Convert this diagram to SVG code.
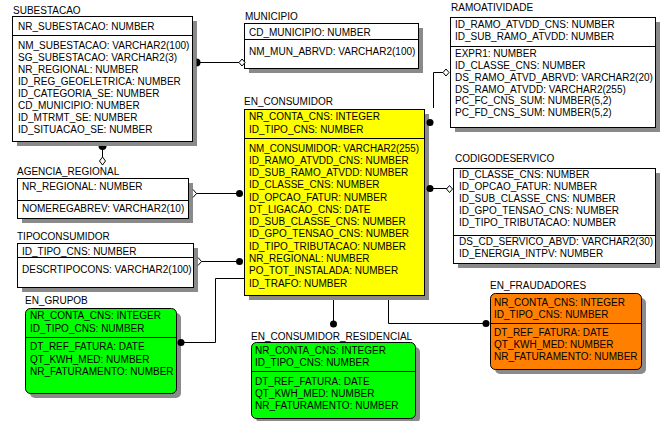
<svg xmlns="http://www.w3.org/2000/svg" width="662" height="421" viewBox="0 0 662 421">
<style>
text{font-family:"Liberation Sans",Arial,sans-serif;font-size:10px;fill:#000}
.box{stroke:#000;stroke-width:1}
.w{fill:#fff}.y{fill:#ffff00}.g{fill:#00ff00}.o{fill:#ff8000}
.sh{fill:#8a8a8a}
.dv{stroke:#000;stroke-width:1}
.rel{stroke:#000;stroke-width:1;fill:none}
.dot{fill:#000}
.dia{fill:#fff;stroke:#000;stroke-width:1}
</style>
<rect width="662" height="421" fill="#fff"/>

<g id="SUBESTACAO">
<text x="13" y="14">SUBESTACAO</text>
<rect class="sh" x="17" y="21" width="180" height="125"/>
<rect class="box w" x="12.5" y="16.5" width="180" height="125"/>
<line class="dv" x1="12.5" y1="35.5" x2="192.5" y2="35.5"/>
<text x="18" y="29.5">NR_SUBESTACAO: NUMBER</text>
<text x="18" y="48.5">NM_SUBESTACAO: VARCHAR2(100)</text>
<text x="18" y="60.5">SG_SUBESTACAO: VARCHAR2(3)</text>
<text x="18" y="72.5">NR_REGIONAL: NUMBER</text>
<text x="18" y="84.5">ID_REG_GEOELETRICA: NUMBER</text>
<text x="18" y="96.5">ID_CATEGORIA_SE: NUMBER</text>
<text x="18" y="108.5">CD_MUNICIPIO: NUMBER</text>
<text x="18" y="120.5">ID_MTRMT_SE: NUMBER</text>
<text x="18" y="132.5">ID_SITUACAO_SE: NUMBER</text>
</g>

<g id="MUNICIPIO">
<text x="245" y="19.5">MUNICIPIO</text>
<rect class="sh" x="249" y="28" width="174" height="45"/>
<rect class="box w" x="244.5" y="23.5" width="174" height="45"/>
<line class="dv" x1="244.5" y1="39.5" x2="418.5" y2="39.5"/>
<text x="249" y="35.5">CD_MUNICIPIO: NUMBER</text>
<text x="249" y="54.5">NM_MUN_ABRVD: VARCHAR2(100)</text>
</g>

<g id="RAMOATIVIDADE">
<text x="451" y="11">RAMOATIVIDADE</text>
<rect class="sh" x="455" y="22" width="205" height="110"/>
<rect class="box w" x="450.5" y="17.5" width="205" height="110"/>
<line class="dv" x1="450.5" y1="46.5" x2="655.5" y2="46.5"/>
<text x="455" y="27.5">ID_RAMO_ATVDD_CNS: NUMBER</text>
<text x="455" y="39.5">ID_SUB_RAMO_ATVDD: NUMBER</text>
<text x="455" y="56.5">EXPR1: NUMBER</text>
<text x="455" y="68.5">ID_CLASSE_CNS: NUMBER</text>
<text x="455" y="80.5">DS_RAMO_ATVD_ABRVD: VARCHAR2(20)</text>
<text x="455" y="92.5">DS_RAMO_ATVDD: VARCHAR2(255)</text>
<text x="455" y="104">PC_FC_CNS_SUM: NUMBER(5,2)</text>
<text x="455" y="115.5">PC_FD_CNS_SUM: NUMBER(5,2)</text>
</g>

<g id="EN_CONSUMIDOR">
<text x="244" y="105">EN_CONSUMIDOR</text>
<rect class="sh" x="249" y="114" width="180" height="186"/>
<rect class="box y" x="244.5" y="109.5" width="180" height="186"/>
<line class="dv" x1="244.5" y1="138.5" x2="424.5" y2="138.5"/>
<text x="249" y="119.5">NR_CONTA_CNS: INTEGER</text>
<text x="249" y="132.5">ID_TIPO_CNS: NUMBER</text>
<text x="249" y="151.5" textLength="170" lengthAdjust="spacingAndGlyphs">NM_CONSUMIDOR: VARCHAR2(255)</text>
<text x="249" y="164">ID_RAMO_ATVDD_CNS: NUMBER</text>
<text x="249" y="176">ID_SUB_RAMO_ATVDD: NUMBER</text>
<text x="249" y="188">ID_CLASSE_CNS: NUMBER</text>
<text x="249" y="200.5">ID_OPCAO_FATUR: NUMBER</text>
<text x="249" y="212.5">DT_LIGACAO_CNS: DATE</text>
<text x="249" y="225">ID_SUB_CLASSE_CNS: NUMBER</text>
<text x="249" y="237">ID_GPO_TENSAO_CNS: NUMBER</text>
<text x="249" y="249.5">ID_TIPO_TRIBUTACAO: NUMBER</text>
<text x="249" y="261.5">NR_REGIONAL: NUMBER</text>
<text x="249" y="274">PO_TOT_INSTALADA: NUMBER</text>
<text x="249" y="286.5">ID_TRAFO: NUMBER</text>
</g>

<g id="AGENCIA_REGIONAL">
<text x="17" y="175">AGENCIA_REGIONAL</text>
<rect class="sh" x="22" y="183" width="171" height="40"/>
<rect class="box w" x="17.5" y="178.5" width="171" height="40"/>
<line class="dv" x1="17.5" y1="200.5" x2="188.5" y2="200.5"/>
<text x="22" y="190">NR_REGIONAL: NUMBER</text>
<text x="22" y="211.5">NOMEREGABREV: VARCHAR2(10)</text>
</g>

<g id="TIPOCONSUMIDOR">
<text x="17" y="240">TIPOCONSUMIDOR</text>
<rect class="sh" x="22" y="248" width="176" height="44"/>
<rect class="box w" x="17.5" y="243.5" width="176" height="44"/>
<line class="dv" x1="17.5" y1="257.5" x2="193.5" y2="257.5"/>
<text x="22" y="254.5">ID_TIPO_CNS: NUMBER</text>
<text x="22" y="272.5">DESCRTIPOCONS: VARCHAR2(100)</text>
</g>

<g id="CODIGODESERVICO">
<text x="455" y="161.5">CODIGODESERVICO</text>
<rect class="sh" x="458" y="173" width="202" height="95"/>
<rect class="box w" x="453.5" y="168.5" width="202" height="95"/>
<line class="dv" x1="453.5" y1="235.5" x2="655.5" y2="235.5"/>
<text x="459" y="177.5">ID_CLASSE_CNS: NUMBER</text>
<text x="459" y="189.5">ID_OPCAO_FATUR: NUMBER</text>
<text x="459" y="201.5">ID_SUB_CLASSE_CNS: NUMBER</text>
<text x="459" y="213.5">ID_GPO_TENSAO_CNS: NUMBER</text>
<text x="459" y="226">ID_TIPO_TRIBUTACAO: NUMBER</text>
<text x="459" y="245">DS_CD_SERVICO_ABVD: VARCHAR2(30)</text>
<text x="459" y="257">ID_ENERGIA_INTPV: NUMBER</text>
</g>

<g id="EN_GRUPOB">
<text x="25" y="304">EN_GRUPOB</text>
<rect class="sh" x="30" y="313" width="151" height="85" rx="5"/>
<rect class="box g" x="25.5" y="308.5" width="151" height="85" rx="5"/>
<line class="dv" x1="25.5" y1="337.5" x2="176.5" y2="337.5"/>
<text x="30" y="319">NR_CONTA_CNS: INTEGER</text>
<text x="30" y="332">ID_TIPO_CNS: NUMBER</text>
<text x="30" y="350">DT_REF_FATURA: DATE</text>
<text x="30" y="362.5">QT_KWH_MED: NUMBER</text>
<text x="30" y="375">NR_FATURAMENTO: NUMBER</text>
</g>

<g id="EN_CONSUMIDOR_RESIDENCIAL">
<text x="251" y="339.5">EN_CONSUMIDOR_RESIDENCIAL</text>
<rect class="sh" x="256" y="347" width="164" height="76" rx="5"/>
<rect class="box g" x="251.5" y="342.5" width="164" height="76" rx="5"/>
<line class="dv" x1="251.5" y1="371.5" x2="415.5" y2="371.5"/>
<text x="255" y="354">NR_CONTA_CNS: INTEGER</text>
<text x="255" y="366">ID_TIPO_CNS: NUMBER</text>
<text x="255" y="384.5">DT_REF_FATURA: DATE</text>
<text x="255" y="396.5">QT_KWH_MED: NUMBER</text>
<text x="255" y="409">NR_FATURAMENTO: NUMBER</text>
</g>

<g id="EN_FRAUDADORES">
<text x="490" y="289">EN_FRAUDADORES</text>
<rect class="sh" x="495" y="298" width="151" height="76" rx="5"/>
<rect class="box o" x="490.5" y="293.5" width="151" height="76" rx="5"/>
<line class="dv" x1="490.5" y1="323.5" x2="641.5" y2="323.5"/>
<text x="494" y="306">NR_CONTA_CNS: INTEGER</text>
<text x="494" y="317.5">ID_TIPO_CNS: NUMBER</text>
<text x="494" y="336">DT_REF_FATURA: DATE</text>
<text x="494" y="348">QT_KWH_MED: NUMBER</text>
<text x="494" y="360">NR_FATURAMENTO: NUMBER</text>
</g>

<g id="connectors">
<path class="rel" d="M197,62.5 H239"/>
<path class="dot" d="M196.5,58.5 A4,4 0 0 1 196.5,66.5 Z"/>
<polygon class="dia" points="239,62.5 242,59 245,62.5 242,66"/>

<path class="rel" d="M102.5,146 V157"/>
<path class="dot" d="M98.5,146 A4,4 0 0 0 106.5,146 Z"/>
<polygon class="dia" points="102.5,157 105.5,161 102.5,165 99.5,161"/>

<path class="rel" d="M193,189.5 L196.5,193.5 L193,197.5 M196.5,193.5 H239"/>
<circle class="dot" cx="239.5" cy="193.5" r="3.5"/>

<path class="rel" d="M198,257.5 L201.5,261.5 L198,265.5 M201.5,261.5 H239"/>
<circle class="dot" cx="239.5" cy="261.5" r="3.5"/>

<path class="rel" d="M181,342.5 H215.5 V278.5 H244"/>
<circle class="dot" cx="181" cy="342.5" r="3.5"/>

<path class="rel" d="M333.5,300 V324"/>
<circle class="dot" cx="333.5" cy="324" r="3.5"/>

<path class="rel" d="M388.5,300 V323.5 H486"/>
<circle class="dot" cx="486" cy="323.5" r="3.5"/>

<path class="rel" d="M433.5,108 V72.5 H443"/>
<polygon class="dia" points="443,72.5 446,69 449,72.5 446,76"/>
<circle class="dot" cx="430" cy="122.5" r="3.5"/>

<path class="rel" d="M430,188.5 H447"/>
<circle class="dot" cx="430" cy="188.5" r="3.5"/>
<polygon class="dia" points="446.5,189 449.5,185.5 452.5,189 449.5,192.5"/>
</g>
</svg>
